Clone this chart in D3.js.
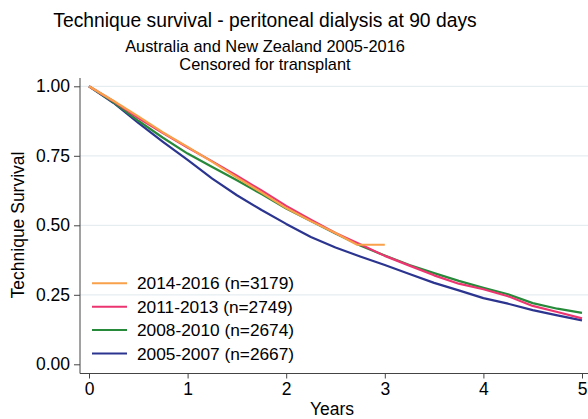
<!DOCTYPE html>
<html><head><meta charset="utf-8">
<script src="https://cdn.jsdelivr.net/npm/d3@7"></script>
<style>body{margin:0;background:#fff}svg{display:block}text{font-family:"Liberation Sans",Arial,sans-serif;fill:#000}</style>
</head><body>
<script>
const years = [0,0.25,0.5,0.75,1,1.25,1.5,1.75,2,2.25,2.5,2.75,3,3.25,3.5,3.75,4,4.25,4.5,4.75,5];
const s0507 = [1.0,0.94,0.868,0.80,0.735,0.668,0.608,0.555,0.505,0.458,0.42,0.388,0.357,0.325,0.293,0.266,0.238,0.218,0.195,0.176,0.158];
const s0810 = [1.0,0.942,0.876,0.815,0.758,0.71,0.662,0.612,0.56,0.515,0.47,0.427,0.391,0.357,0.328,0.30,0.275,0.252,0.22,0.20,0.185];
const s1113 = [1.0,0.946,0.886,0.832,0.78,0.73,0.678,0.625,0.57,0.52,0.472,0.432,0.39,0.355,0.32,0.29,0.27,0.245,0.21,0.188,0.165];
const y1416 = [0,0.25,0.5,0.75,1,1.25,1.5,1.75,2,2.25,2.5,2.72,3.0];
const s1416 = [1.0,0.947,0.892,0.834,0.782,0.728,0.672,0.618,0.562,0.515,0.472,0.43,0.43];
const seriesNames = ["2014-2016 (n=3179)","2011-2013 (n=2749)","2008-2010 (n=2674)","2005-2007 (n=2667)"];
const seriesColors = ["#f9a04b","#ec3570","#27893a","#2b3590"];
const xTicks = [0,1,2,3,4,5];
const yTicks = [0,0.25,0.5,0.75,1];

const W=588,H=419;
const svg=d3.select("body").append("svg").attr("width",W).attr("height",H);
const x=d3.scaleLinear().domain([0,5]).range([89,582]);
const y=d3.scaleLinear().domain([0,1]).range([364.3,86.3]);

// gridlines
svg.append("g").selectAll("line").data(yTicks.filter(d=>d>0)).join("line")
  .attr("x1",80).attr("x2",W).attr("y1",d=>y(d)).attr("y2",d=>y(d))
  .attr("stroke","#e6edf1").attr("stroke-width",1.2);

// axes
const ax=svg.append("g").attr("transform","translate(0,373.5)")
  .call(d3.axisBottom(x).tickValues(xTicks).tickFormat(d3.format("d")).tickSize(5).tickSizeOuter(0).tickPadding(4));
ax.select(".domain").attr("d","M80,0H"+W).attr("stroke","#444");
ax.selectAll(".tick line").attr("stroke","#444");
ax.selectAll("text").attr("font-size",17.5).attr("fill","#000").attr("font-family","Liberation Sans, Arial, sans-serif");
const ay=svg.append("g").attr("transform","translate(80,0)")
  .call(d3.axisLeft(y).tickValues(yTicks).tickFormat(d3.format(".2f")).tickSize(6).tickSizeOuter(0).tickPadding(4));
ay.select(".domain").attr("d","M0,78V373.5").attr("stroke","#444");
ay.selectAll(".tick line").attr("stroke","#444");
ay.selectAll("text").attr("font-size",17.5).attr("fill","#000").attr("font-family","Liberation Sans, Arial, sans-serif");

// lines
const line=d3.line().x(d=>x(d[0])).y(d=>y(d[1]));
const data=[
 {xs:years,vs:s0507,c:seriesColors[3]},
 {xs:years,vs:s0810,c:seriesColors[2]},
 {xs:years,vs:s1113,c:seriesColors[1]},
 {xs:y1416,vs:s1416,c:seriesColors[0]}
];
data.forEach(s=>{
  svg.append("path").datum(s.xs.map((t,i)=>[t,s.vs[i]]))
    .attr("d",line).attr("fill","none").attr("stroke",s.c).attr("stroke-width",2.2).attr("stroke-linejoin","round");
});

// legend
const lg=svg.append("g");
seriesNames.forEach((n,i)=>{
  const yy=283.3+i*23.4;
  lg.append("line").attr("x1",92).attr("x2",127).attr("y1",yy).attr("y2",yy).attr("stroke",seriesColors[i]).attr("stroke-width",2);
  lg.append("text").attr("x",137).attr("y",yy+6).attr("font-size",17.3).text(n);
});

// titles
svg.append("text").attr("x",265).attr("y",27).attr("text-anchor","middle").attr("font-size",19.3).text("Technique survival - peritoneal dialysis at 90 days");
svg.append("text").attr("x",265).attr("y",52).attr("text-anchor","middle").attr("font-size",16.4).text("Australia and New Zealand 2005-2016");
svg.append("text").attr("x",265).attr("y",70).attr("text-anchor","middle").attr("font-size",16.4).text("Censored for transplant");
svg.append("text").attr("x",332).attr("y",415).attr("text-anchor","middle").attr("font-size",17.5).text("Years");
svg.append("text").attr("transform","translate(24,225) rotate(-90)").attr("text-anchor","middle").attr("font-size",17.5).text("Technique Survival");
</script>
</body></html>
